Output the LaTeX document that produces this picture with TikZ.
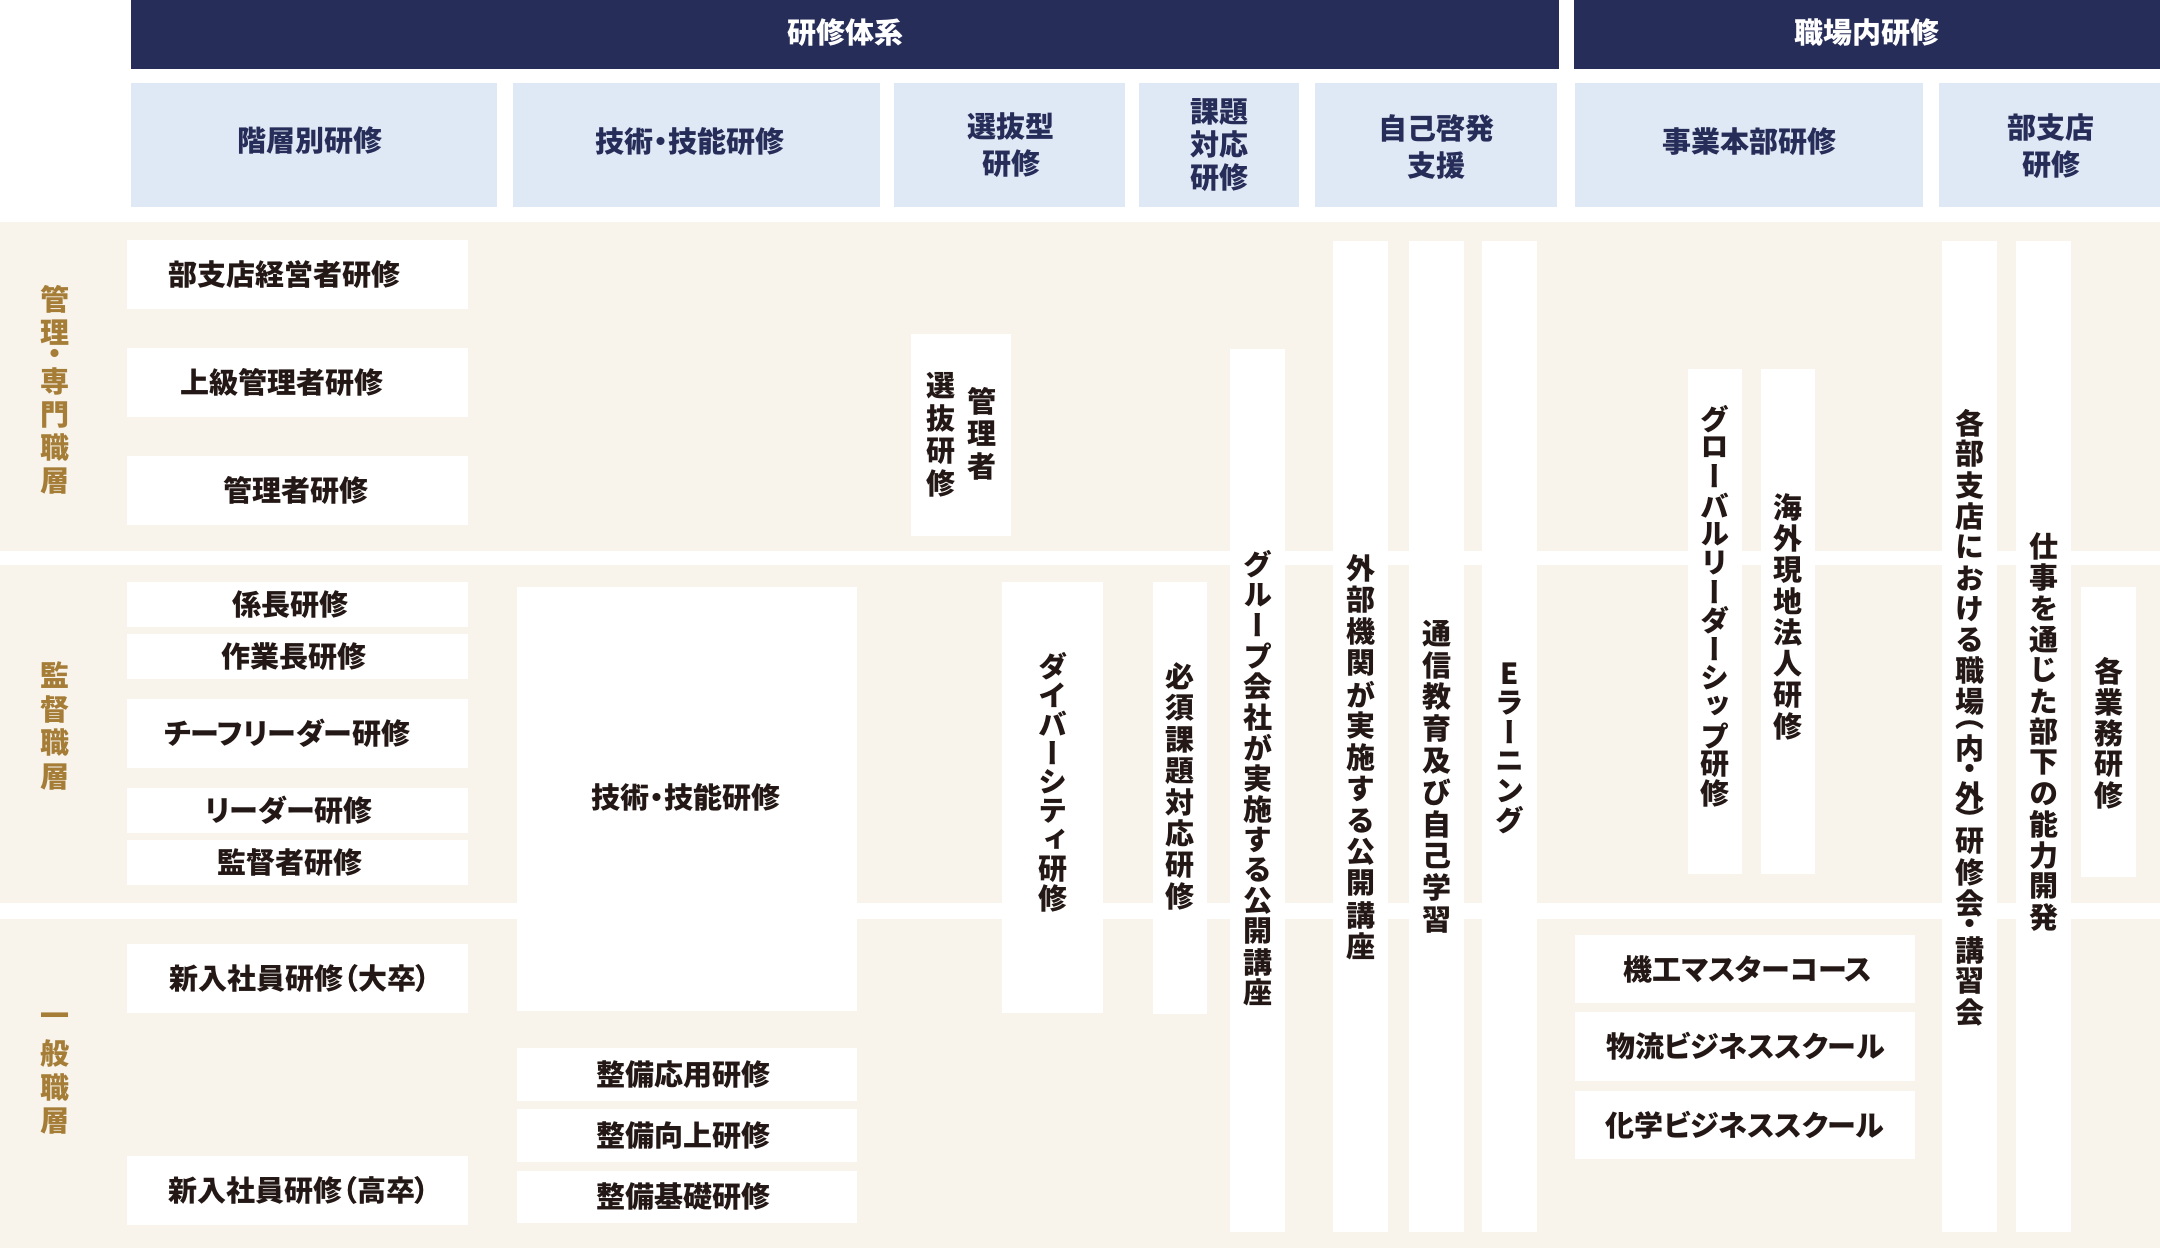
\documentclass[tikz,border=0pt]{standalone}
\usepackage{fontspec}
\setmainfont{Noto Sans CJK JP}[RawFeature=+palt]
\newfontfamily\jpv{Noto Sans CJK JP}[RawFeature=+vert]
\definecolor{navy}{HTML}{272D59}
\definecolor{lblue}{HTML}{DFE8F5}
\definecolor{beige}{HTML}{F8F4EC}
\definecolor{gold}{HTML}{A57D37}
\definecolor{ink}{HTML}{231815}
\makeatletter
\newdimen\vc@p
\newcommand\vchars[2]{\vbox{\offinterlineskip\vc@p=#1pt\relax\vc@loop#2\relax}}
\def\vc@loop#1{\ifx\relax#1\else\vc@one{#1}\expandafter\vc@loop\fi}
\def\vc@one#1{%
  \ifx#1（\vc@box{.5\vc@p}{#1}\else
  \ifx#1）\vc@box{.5\vc@p}{#1}\else
  \ifx#1・\vc@box{.5\vc@p}{#1}\else
  \vc@box{\vc@p}{#1}\fi\fi\fi}
\def\vc@box#1#2{\vbox to #1{\vss\hbox to 1.2em{\hss#2\hss}\vss}}
\makeatother
\newcommand\rbox[6]{%
  \node[fill=#6, draw=none, inner sep=0pt, outer sep=0pt,
        minimum width={(#4-#2)*1pt}, minimum height={(#5-#3)*1pt},
        anchor=north west] (#1) at (#2,#3) {};}
\tikzset{
  htext/.style={font=\bfseries\fontsize{29}{37}\selectfont, text=ink, inner sep=0pt, align=center},
  hdtext/.style={htext, text=navy},
  wtext/.style={htext, text=white},
  vtext/.style={font=\jpv\bfseries\fontsize{29}{29}\selectfont, text=ink, inner sep=0pt},
  gtext/.style={vtext, text=gold},
}
\begin{document}
\begin{tikzpicture}[x=1pt,y=-1pt]
\useasboundingbox (0,0) rectangle (2160,1248);
\fill[white] (0,0) rectangle (2160,1248);
% header bars
\rbox{hdA}{131}{0}{1559}{69}{navy}
\rbox{hdB}{1574}{0}{2160}{69}{navy}
\node[wtext] (thdA) at (845,33) {研修体系};
\node[wtext] (thdB) at (1867,33) {職場内研修};
% category boxes
\rbox{c1}{131}{83}{497}{207}{lblue}
\rbox{c2}{513}{83}{880}{207}{lblue}
\rbox{c3}{894}{83}{1125}{207}{lblue}
\rbox{c4}{1139}{83}{1299}{207}{lblue}
\rbox{c5}{1315}{83}{1557}{207}{lblue}
\rbox{c6}{1575}{83}{1923}{207}{lblue}
\rbox{c7}{1939}{83}{2160}{207}{lblue}
\node[hdtext] (tc1) at (310,141) {階層別研修};
\node[hdtext] (tc2) at (690,142) {技術・技能研修};
\node[hdtext] (tc3) at (1011,145.5) {選抜型\\研修};
\node[hdtext, font=\bfseries\fontsize{29}{33}\selectfont] (tc4) at (1219,145) {課題\\対応\\研修};
\node[hdtext] (tc5) at (1436,146.5) {自己啓発\\支援};
\node[hdtext] (tc6) at (1749,142) {事業本部研修};
\node[hdtext] (tc7) at (2051,146.5) {部支店\\研修};
% bands
\rbox{bandA}{0}{222}{2160}{551}{beige}
\rbox{bandB}{0}{565}{2160}{903}{beige}
\rbox{bandC}{0}{919}{2160}{1248}{beige}
% level labels
\node[gtext] (g1) at (55,390) {\vchars{33}{管理・専門職層}};
\node[gtext] (g2) at (55,726) {\vchars{33.7}{監督職層}};
\node[gtext] (g3) at (55,1070.5) {\vchars{33.7}{一般職層}};
% left boxes
\rbox{l1}{127}{240}{468}{309}{white}
\rbox{l2}{127}{348}{468}{417}{white}
\rbox{l3}{127}{456}{468}{525}{white}
\rbox{l4}{127}{582}{468}{627}{white}
\rbox{l5}{127}{634}{468}{679}{white}
\rbox{l6}{127}{699}{468}{768}{white}
\rbox{l7}{127}{788}{468}{833}{white}
\rbox{l8}{127}{840}{468}{885}{white}
\rbox{l9}{127}{944}{468}{1013}{white}
\rbox{l10}{127}{1156}{468}{1225}{white}
\node[htext] (tl1) at (284.5,274.5) {部支店経営者研修};
\node[htext] (tl2) at (282,382.5) {上級管理者研修};
\node[htext] (tl3) at (295.5,490.5) {管理者研修};
\node[htext] (tl4) at (290,604.5) {係長研修};
\node[htext] (tl5) at (294,656.5) {作業長研修};
\node[htext] (tl6) at (287,733.5) {チーフリーダー研修};
\node[htext] (tl7) at (289,810.5) {リーダー研修};
\node[htext] (tl8) at (290,862.5) {監督者研修};
\node[htext] (tl9) at (300,978.5) {新入社員研修（大卒）};
\node[htext] (tl10) at (299,1190.5) {新入社員研修（高卒）};
% technical skills
\rbox{tech}{517}{587}{857}{1011}{white}
\node[htext] (ttech) at (686,797) {技術・技能研修};
\rbox{m1}{517}{1048}{857}{1101}{white}
\rbox{m2}{517}{1109}{857}{1162}{white}
\rbox{m3}{517}{1171}{857}{1223}{white}
\node[htext] (tm1) at (683,1074.5) {整備応用研修};
\node[htext] (tm2) at (683,1135.5) {整備向上研修};
\node[htext] (tm3) at (683,1197) {整備基礎研修};
% selection
\rbox{sel}{911}{334}{1011}{536}{white}
\node[vtext] (tsel1) at (941,434.5) {\vchars{32.7}{選抜研修}};
\node[vtext] (tsel2) at (982,434) {\vchars{32.5}{管理者}};
% vertical columns
\rbox{div}{1002}{582}{1103}{1013}{white}
\rbox{hissu}{1153}{582}{1207}{1014}{white}
\rbox{grp}{1230}{349}{1285}{1232}{white}
\rbox{gaibu}{1333}{241}{1388}{1232}{white}
\rbox{tsu}{1409}{241}{1464}{1232}{white}
\rbox{elr}{1482}{241}{1537}{1232}{white}
\rbox{glb}{1688}{369}{1742}{874}{white}
\rbox{kai}{1761}{369}{1815}{874}{white}
\rbox{kak}{1942}{241}{1997}{1232}{white}
\rbox{shi}{2016}{241}{2071}{1232}{white}
\rbox{gyo}{2081}{587}{2136}{877}{white}
\node[vtext] (tdiv) at (1052.5,782) {\vchars{29}{ダイバーシティ研修}};
\node[vtext] (thissu) at (1180,786.5) {\vchars{31.4}{必須課題対応研修}};
\node[vtext] (tgrp) at (1257.5,778.5) {\vchars{30.6}{グループ会社が実施する公開講座}};
\node[vtext] (tgaibu) at (1360.5,757.5) {\vchars{31.5}{外部機関が実施する公開講座}};
\node[vtext] (ttsu) at (1436.5,776.5) {\vchars{31.8}{通信教育及び自己学習}};
\node[vtext] (telr) at (1509.5,747) {\vchars{29.2}{Eラーニング}};
\node[vtext] (tglb) at (1715,606) {\vchars{28.8}{グローバルリーダーシップ研修}};
\node[vtext] (tkai) at (1788,617) {\vchars{31.4}{海外現地法人研修}};
\node[vtext] (tkak) at (1969.5,717.5) {\vchars{31}{各部支店における職場（内・外）研修会・講習会}};
\node[vtext] (tshi) at (2043.5,732) {\vchars{30.9}{仕事を通じた部下の能力開発}};
\node[vtext] (tgyo) at (2108.5,733) {\vchars{31}{各業務研修}};
% business division courses
\rbox{r1}{1575}{935}{1915}{1003}{white}
\rbox{r2}{1575}{1012}{1915}{1081}{white}
\rbox{r3}{1575}{1091}{1915}{1159}{white}
\node[htext] (tr1) at (1748,969) {機工マスターコース};
\node[htext] (tr2) at (1745.5,1046.5) {物流ビジネススクール};
\node[htext] (tr3) at (1745,1125) {化学ビジネススクール};
\end{tikzpicture}
\end{document}
